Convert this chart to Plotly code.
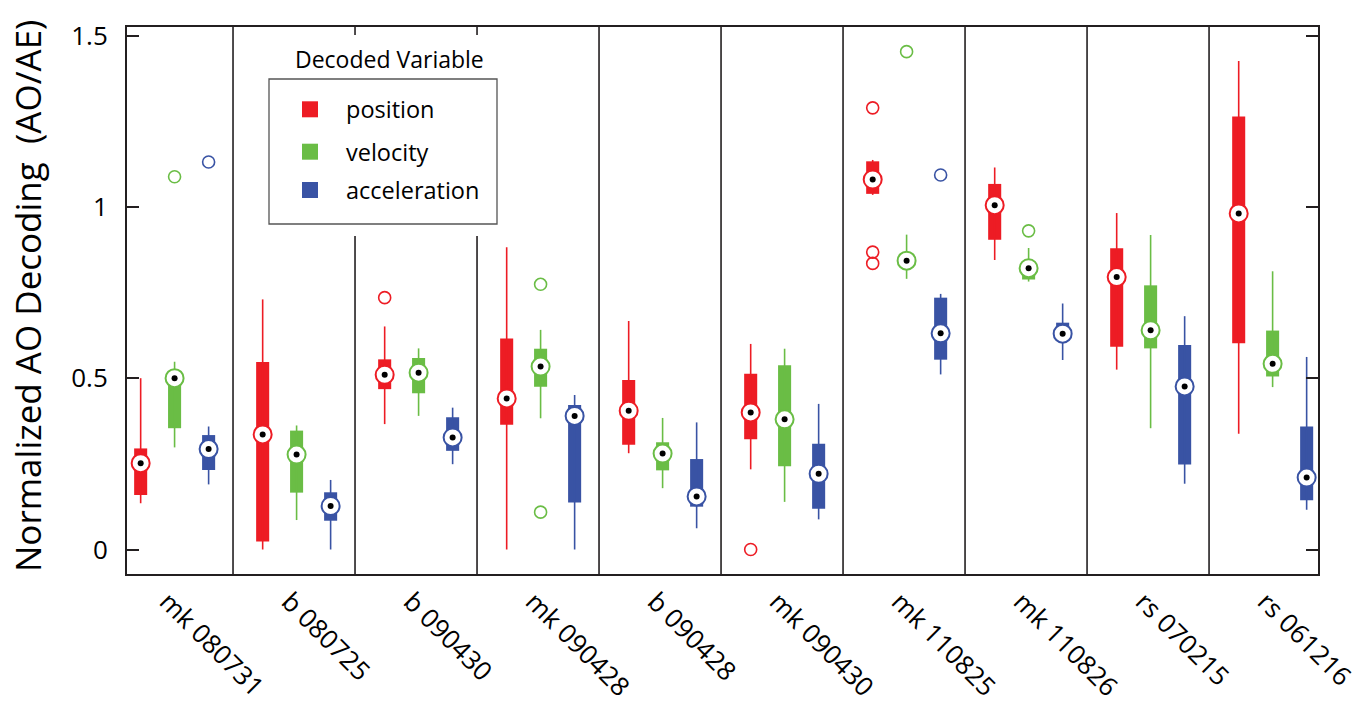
import plotly.graph_objects as go

# ---------------- data ----------------
groups = ["mk 080731", "b 080725", "b 090430", "mk 090428", "b 090428",
          "mk 090430", "mk 110825", "mk 110826", "rs 070215", "rs 061216"]

variables = ["position", "velocity", "acceleration"]
colors = ["#ED1C24", "#6ABD45", "#3953A4"]

# position
pos_wlo = [0.135, 0.000, 0.366, 0.000, 0.281, 0.234, 1.035, 0.845, 0.525, 0.338]
pos_q1  = [0.159, 0.023, 0.468, 0.364, 0.306, 0.322, 1.038, 0.904, 0.592, 0.602]
pos_med = [0.252, 0.336, 0.510, 0.441, 0.405, 0.400, 1.080, 1.005, 0.795, 0.981]
pos_q3  = [0.295, 0.547, 0.555, 0.616, 0.495, 0.513, 1.133, 1.067, 0.879, 1.264]
pos_whi = [0.500, 0.730, 0.651, 0.882, 0.667, 0.600, 1.137, 1.115, 0.982, 1.426]
pos_out = [[], [], [0.735], [], [], [0.0], [1.289, 0.868, 0.835], [], [], []]

# velocity
vel_wlo = [0.298, 0.086, 0.390, 0.383, 0.179, 0.139, 0.790, 0.782, 0.354, 0.474]
vel_q1  = [0.354, 0.166, 0.456, 0.475, 0.231, 0.243, 0.828, 0.788, 0.587, 0.505]
vel_med = [0.500, 0.277, 0.516, 0.534, 0.280, 0.380, 0.843, 0.821, 0.640, 0.542]
vel_q3  = [0.520, 0.347, 0.559, 0.586, 0.313, 0.538, 0.858, 0.840, 0.771, 0.639]
vel_whi = [0.548, 0.362, 0.587, 0.641, 0.384, 0.586, 0.919, 0.880, 0.918, 0.812]
vel_out = [[1.088], [], [], [0.774, 0.109], [], [], [1.453], [0.930], [], []]

# acceleration
acc_wlo = [0.190, 0.000, 0.249, 0.000, 0.062, 0.088, 0.511, 0.553, 0.192, 0.116]
acc_q1  = [0.232, 0.084, 0.288, 0.137, 0.125, 0.119, 0.554, 0.610, 0.248, 0.144]
acc_med = [0.293, 0.127, 0.327, 0.390, 0.155, 0.221, 0.631, 0.630, 0.476, 0.210]
acc_q3  = [0.334, 0.167, 0.386, 0.422, 0.264, 0.309, 0.735, 0.662, 0.597, 0.359]
acc_whi = [0.359, 0.203, 0.414, 0.451, 0.371, 0.425, 0.746, 0.718, 0.681, 0.562]
acc_out = [[1.131], [], [], [], [], [], [1.093], [], [], []]

ytick_vals = [0, 0.5, 1, 1.5]
ytick_text = ["0", "0.5", "1", "1.5"]

series = [
    (pos_wlo, pos_q1, pos_med, pos_q3, pos_whi, pos_out),
    (vel_wlo, vel_q1, vel_med, vel_q3, vel_whi, vel_out),
    (acc_wlo, acc_q1, acc_med, acc_q3, acc_whi, acc_out),
]

# ---------------- layout constants ----------------
W, H = 1371, 711
ML, MR, MT, MB = 127, 53, 27, 137
PW, PH = W - ML - MR, H - MT - MB
offsets = [-0.257, 0.021, 0.300]
label_shift = -0.04
box_w = 0.107
FONT = "Open Sans"
AX = "#231F20"


def px(x):
    return (x - ML) / PW


def py(y):
    return (H - MB - y) / PH


fig = go.Figure()
n = len(groups)

for k, (wlo, q1, med, q3, whi, outs) in enumerate(series):
    c = colors[k]
    xs = [i + offsets[k] for i in range(n)]
    # whiskers
    lx, ly = [], []
    for i in range(n):
        lx += [xs[i], xs[i], None]
        ly += [wlo[i], whi[i], None]
    fig.add_trace(go.Scatter(x=lx, y=ly, mode="lines",
                             line=dict(color=c, width=1.6),
                             showlegend=False, hoverinfo="skip"))
    # boxes
    fig.add_trace(go.Bar(x=xs, y=[q3[i] - q1[i] for i in range(n)], base=q1,
                         width=box_w, marker=dict(color=c, line=dict(width=0)),
                         showlegend=False, name=variables[k]))
for k, (wlo, q1, med, q3, whi, outs) in enumerate(series):
    c = colors[k]
    xs = [i + offsets[k] for i in range(n)]
    # outliers
    ox, oy = [], []
    for i in range(n):
        for v in outs[i]:
            ox.append(xs[i])
            oy.append(v)
    fig.add_trace(go.Scatter(x=ox, y=oy, mode="markers",
                             marker=dict(symbol="circle-open", size=12,
                                         color=c, line=dict(width=1.6, color=c)),
                             showlegend=False, hoverinfo="skip"))
    # medians
    fig.add_trace(go.Scatter(x=xs, y=med, mode="markers",
                             marker=dict(symbol="circle", size=18, color="white",
                                         line=dict(color=c, width=2)),
                             showlegend=False))
    fig.add_trace(go.Scatter(x=xs, y=med, mode="markers",
                             marker=dict(symbol="circle", size=6, color="black"),
                             showlegend=False, hoverinfo="skip"))

shapes = []
# group separators
for i in range(n - 1):
    shapes.append(dict(type="line", xref="x", yref="paper", x0=i + 0.5, x1=i + 0.5,
                       y0=0, y1=1, line=dict(color=AX, width=1.6), layer="below"))
# legend white background & border
shapes.append(dict(type="rect", xref="paper", yref="paper",
                   x0=px(245), x1=px(512), y0=py(236), y1=py(35),
                   fillcolor="white", line=dict(width=0), layer="below"))
shapes.append(dict(type="rect", xref="paper", yref="paper",
                   x0=px(269), x1=px(497), y0=py(224), y1=py(79),
                   fillcolor="rgba(0,0,0,0)", line=dict(color="#555555", width=1.3),
                   layer="below"))
leg_y = [109.3, 151.7, 190.0]
annotations = []
for k in range(3):
    shapes.append(dict(type="rect", xref="paper", yref="paper",
                       x0=px(302), x1=px(318), y0=py(leg_y[k] + 8), y1=py(leg_y[k] - 8),
                       fillcolor=colors[k], line=dict(width=0), layer="below"))
    annotations.append(dict(text=variables[k], xref="paper", yref="paper",
                            x=px(344), y=py(leg_y[k]), xanchor="left", yanchor="middle",
                            showarrow=False, font=dict(family=FONT, size=23.5, color="black")))
annotations.append(dict(text="Decoded Variable", xref="paper", yref="paper",
                        x=px(389), y=py(59), xanchor="center", yanchor="middle",
                        showarrow=False, font=dict(family=FONT, size=23, color="black")))
annotations.append(dict(text="Normalized AO Decoding  (AO/AE)", xref="paper", yref="paper",
                        x=px(27), y=py(296), xanchor="center", yanchor="middle",
                        textangle=-90, showarrow=False,
                        font=dict(family=FONT, size=35, color="black")))

fig.update_layout(
    width=W, height=H,
    margin=dict(l=ML, r=MR, t=MT, b=MB, pad=0, autoexpand=False),
    paper_bgcolor="white", plot_bgcolor="white",
    barmode="overlay", showlegend=False,
    shapes=shapes, annotations=annotations,
    font=dict(family=FONT, color="black"),
)
fig.update_xaxes(range=[-0.369, 9.393], tickvals=[i + label_shift for i in range(n)],
                 ticktext=groups,
                 tickangle=45, ticks="", showgrid=False, zeroline=False,
                 showline=True, linecolor=AX, linewidth=2, mirror=True,
                 automargin=False, ticklabeloverflow="allow",
                 tickfont=dict(family=FONT, size=26, color="black"))
fig.update_yaxes(range=[-0.0715, 1.525], tickvals=ytick_vals, ticktext=ytick_text,
                 ticks="inside", ticklen=12, tickwidth=2, tickcolor=AX,
                 showgrid=False, zeroline=False,
                 showline=True, linecolor=AX, linewidth=2, mirror="ticks",
                 ticklabelstandoff=12, automargin=False,
                 tickfont=dict(family=FONT, size=26, color="black"))

fig.write_html("out.html")
